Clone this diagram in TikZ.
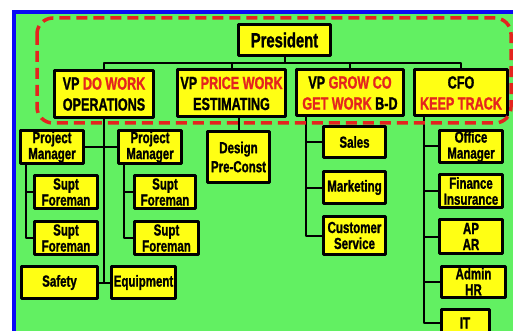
\documentclass[tikz,border=0pt]{standalone}
\usepackage{fontspec}
\newfontfamily\cond[FakeStretch=0.72, FakeBold=1.2]{Liberation Sans Bold}
\definecolor{bgreen}{RGB}{98,240,98}
\definecolor{byellow}{RGB}{255,255,20}
\definecolor{tred}{RGB}{228,36,30}
\definecolor{fblue}{RGB}{10,10,245}
\newcommand\rd[1]{\textcolor{tred}{#1}}
\tikzset{
	box/.style={draw=black, line width=3pt, fill=byellow, align=center, inner sep=0pt,
		minimum width=63pt, minimum height=33pt, font=\cond\fontsize{16}{16}\selectfont},
	vpbox/.style={box, minimum height=47pt, font=\cond\fontsize{17.5}{21}\selectfont},
	link/.style={line width=2pt},
	frame/.style={draw=tred, line width=3.5pt, dash pattern=on 11pt off 6pt, rounded corners=16pt},
}
\begin{document}
\begin{tikzpicture}[x=1pt, y=-1pt, line join=round]
	\useasboundingbox (0,0) rectangle (513,331);
	\clip (0,0) rectangle (513,331);
	\fill[white] (0,0) rectangle (513,331);
	\fill[fblue] (12,10) rectangle (520,340);
	\fill[bgreen] (16,14) rectangle (520,340);
	% top levels
	\node[box, minimum width=92pt, minimum height=31pt, font=\cond\fontsize{20.5}{22}\selectfont] (pres) at (284.5,40) {President};
	\node[vpbox, minimum width=99pt] (vpops) at (104,94) {VP \rd{DO WORK}\\OPERATIONS};
	\node[vpbox, minimum width=108pt] (vpest) at (231.5,93.5) {VP \rd{PRICE WORK}\\ESTIMATING};
	\node[vpbox, minimum width=107pt, minimum height=46pt] (vpbd) at (350,93) {VP \rd{GROW CO}\\\rd{GET WORK} B-D};
	\node[vpbox, minimum width=93pt, minimum height=46pt] (cfo) at (461,93) {CFO\\\rd{KEEP TRACK}};
	% operations
	\node[box] (pmA) at (52,147) {Project\\Manager};
	\node[box] (pmB) at (150,147) {Project\\Manager};
	\node[box] (sfA1) at (66,192) {Supt\\Foreman};
	\node[box] (sfA2) at (66,238) {Supt\\Foreman};
	\node[box, minimum width=61pt] (sfB1) at (165,192) {Supt\\Foreman};
	\node[box, minimum width=64pt] (sfB2) at (166.5,238) {Supt\\Foreman};
	\node[box, minimum width=76pt, minimum height=32pt] (safety) at (59.5,282.5) {Safety};
	\node[box, minimum width=64pt, minimum height=32pt] (equip) at (143.5,282.5) {Equipment};
	% estimating
	\node[box, minimum width=62pt, minimum height=51pt] (design) at (238.5,157) {Design\\[3pt]Pre-Const};
	% business development
	\node[box, minimum width=62pt, minimum height=31pt] (sales) at (354.5,142) {Sales};
	\node[box, minimum width=62pt, minimum height=32pt] (mkt) at (354.5,187.5) {Marketing};
	\node[box, minimum width=62pt, minimum height=38pt] (cust) at (354.5,235.5) {Customer\\Service};
	% finance
	\node[box, minimum height=32pt] (office) at (471,146.5) {Office\\Manager};
	\node[box] (fin) at (471,191) {Finance\\Insurance};
	\node[box, minimum height=34pt] (apar) at (471,236.5) {AP\\AR};
	\node[box, minimum width=64pt, minimum height=31pt] (admin) at (473.5,281.5) {Admin\\HR};
	\node[box, minimum width=48pt, minimum height=27pt] (it) at (465,323) {IT};
	% connectors
	\coordinate (bus) at (284.5,63);
	\draw[link] (pres.south) -- (bus);
	\draw[link] (vpops.north) -- (vpops.north |- bus) -- (cfo.north |- bus) -- (cfo.north);
	\foreach \v in {vpest,vpbd} \draw[link] (\v.north) -- (\v.north |- bus);
	\draw[link] (vpops.south) -- (vpops.south |- safety.east);
	\draw[link] (safety.east) -- (equip.west);
	\draw[link] (pmA.east) -- (pmB.west);
	\draw[link] ([xshift=7pt]pmA.south west) coordinate (ta) |- (sfA2.west);
	\draw[link] (sfA1.west) -- (sfA1.west -| ta);
	\draw[link] ([xshift=7pt]pmB.south west) coordinate (tb) |- (sfB2.west);
	\draw[link] (sfB1.west) -- (sfB1.west -| tb);
	\draw[link] (vpest.south -| design.north) -- (design.north);
	\draw[link] ([xshift=11pt]vpbd.south west) coordinate (tc) |- (cust.west);
	\foreach \n in {sales,mkt} \draw[link] (\n.west) -- (\n.west -| tc);
	\draw[link] ([xshift=11pt]cfo.south west) coordinate (td) |- (it.west);
	\foreach \n in {office,fin,apar,admin} \draw[link] (\n.west) -- (\n.west -| td);
	% management group
	\draw[frame] (37,18) rectangle (511,123);
\end{tikzpicture}
\end{document}
